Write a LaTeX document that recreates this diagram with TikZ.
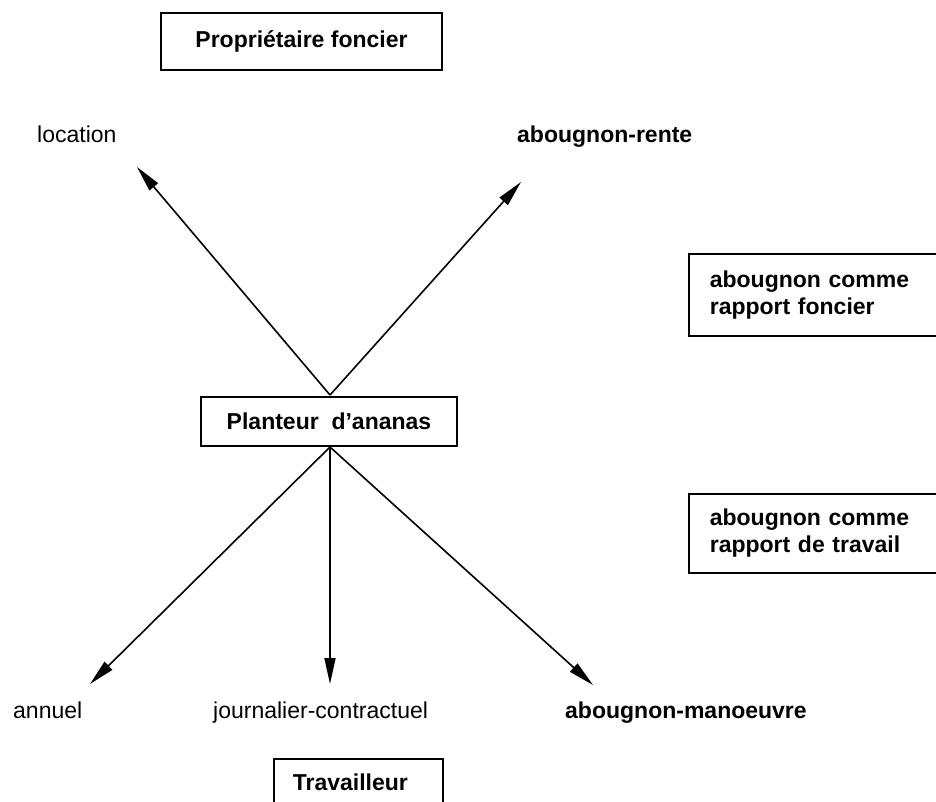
\documentclass[tikz,border=0pt]{standalone}
\usepackage{fontspec}
\setmainfont{Liberation Sans}
\usetikzlibrary{arrows.meta}
\begin{document}
\begin{tikzpicture}[x=1pt,y=-1pt,
  box/.style={draw, line width=1.6pt, font=\fontsize{23}{27}\selectfont\bfseries},
  lbl/.style={inner sep=0pt, anchor=base west, font=\fontsize{23}{27}\selectfont},
  blbl/.style={lbl, font=\fontsize{23}{27}\selectfont\bfseries},
  arr/.style={line width=1.6pt, -{Triangle[length=26pt,width=11pt]}}]
\useasboundingbox (0,0) rectangle (936,801);
\clip (0,0) rectangle (936,801);
% boxes
\node[box, inner sep=0pt, minimum width=281pt, minimum height=57pt] (prop) at (301.5,41.5) {Propriétaire foncier};
\node[box, inner sep=0pt, minimum width=256pt, minimum height=49pt] (plant) at (329,421.5) {Planteur\ \ d’ananas};
\node[box, anchor=north west, inner xsep=19pt, inner ysep=0pt, text width=131pt, align=left, minimum height=47pt] (trav) at (273,758) {Travailleur};
\node[box, anchor=north west, inner xsep=21pt, inner ysep=0pt, text width=260pt, align=left, minimum height=82pt] (rf) at (688,253) {abougnon comme\\rapport foncier};
\node[box, anchor=north west, inner xsep=21pt, inner ysep=0pt, text width=260pt, align=left, minimum height=79pt] (rt) at (688,493) {abougnon comme\\rapport de travail};
% labels
\node[lbl] (loc) at (37,142) {location};
\node[blbl] (rente) at (517,142) {abougnon-rente};
\node[lbl] (ann) at (13,718) {annuel};
\node[lbl] (jour) at (213,718) {journalier-contractuel};
\node[blbl] (man) at (565,718) {abougnon-manoeuvre};
% arrow ends
\coordinate (tl) at (137,167);
\coordinate (tr) at (521,182);
\coordinate (bl) at (90,684);
\coordinate (bm) at (330,684);
\coordinate (br) at (593,685);
\coordinate (ptop) at (330,395);
\coordinate (pbot) at (330,447);
\draw[arr] (ptop) -- (tl);
\draw[arr] (ptop) -- (tr);
\draw[arr] (pbot) -- (bl);
\draw[arr] (pbot) -- (bm);
\draw[arr] (pbot) -- (br);
\end{tikzpicture}
\end{document}
